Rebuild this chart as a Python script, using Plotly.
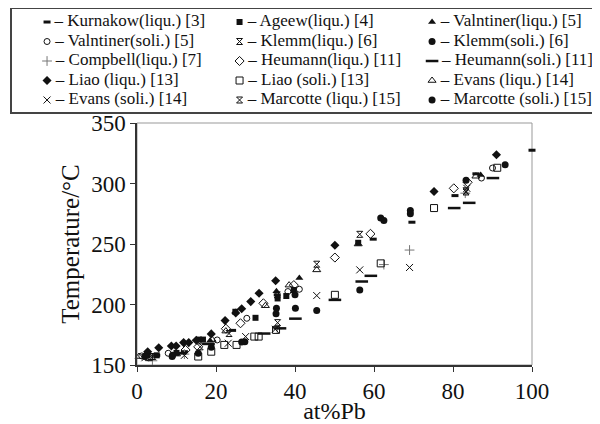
import plotly.graph_objects as go

# legend labels, in the order they appear (3 per row)
names = [
    'Kurnakow(liqu.) [3]', 'Ageew(liqu.) [4]', 'Valntiner(liqu.) [5]',
    'Valntiner(soli.) [5]', 'Klemm(liqu.) [6]', 'Klemm(soli.) [6]',
    'Compbell(liqu.) [7]', 'Heumann(liqu.) [11]', 'Heumann(soli.) [11]',
    'Liao (liqu.) [13]', 'Liao (soli.) [13]', 'Evans (liqu.) [14]',
    'Evans (soli.) [14]', 'Marcotte (liqu.) [15]', 'Marcotte (soli.) [15]',
]

# at%Pb / Temperature (degC)
kurnakow_x = [5, 12, 24.2, 35.5, 59.8, 69.6, 80.5, 85.8, 100]
kurnakow_y = [158, 161, 178.6, 208, 254, 268, 290, 308, 327.5]
ageew_x = [5, 10, 15.7, 16.7, 24.9, 30, 35.6, 37.8, 39.7, 56]
ageew_y = [158, 160, 171, 171, 194, 189, 205, 207, 212, 251]
valntiner_l_x = [2.5, 18.5, 35.3, 41.1, 87]
valntiner_l_y = [157, 170, 211, 222, 307]
valntiner_s_x = [1.2, 7.9, 20.3, 27.8, 38.2, 41.1, 87.2, 90]
valntiner_s_y = [157.5, 159.7, 170.7, 188.6, 210.7, 212.6, 304.5, 312.8]
klemm_l_x = [3.5, 16, 23.3, 35.6, 83.3]
klemm_l_y = [157, 165, 176, 185, 294]
klemm_s_x = [2.6, 8.9, 15.5, 18.8, 27.3, 35.2, 40.1, 61.7, 62.5, 69.2, 69.2, 83.3]
klemm_s_y = [158.8, 157, 159.7, 164.7, 169.3, 192.4, 197, 271.4, 269.4, 277.7, 275, 302.6]
compbell_x = [3.9, 12, 35.5, 62.5, 69, 83.1]
compbell_y = [153.5, 159, 180, 233, 245, 292]
heumann_l_x = [12.3, 15.5, 22.5, 26.2, 32, 39.7, 50.1, 59.1, 80.2, 83.7]
heumann_l_y = [162.4, 165, 180, 184.5, 201, 216, 238.8, 258.4, 296, 301]
heumann_s_x = [10.9, 18.1, 32.2, 36.2, 40.1, 50.1, 56.9, 59.2, 80.3, 84.1, 90.1]
heumann_s_y = [159.7, 167.4, 176, 180.3, 188.3, 203.8, 219, 223.7, 279.7, 284, 304.5]
liao_l_x = [2.7, 5.5, 8.7, 9.9, 11.8, 13.1, 15, 18.8, 22.3, 25, 26.5, 28.8,
            30.9, 35.1, 50.1, 75.2, 91]
liao_l_y = [161, 164.3, 165.7, 165.7, 168.5, 168.5, 170.5, 175.7, 186.7, 193,
            196.5, 202.4, 209.3, 219.6, 249, 293.4, 323.8]
liao_s_x = [3, 15.5, 18.8, 22.1, 25.2, 29.7, 30.8, 35.2, 50.1, 61.7, 75.2, 91.2]
liao_s_y = [156.5, 157, 161, 166.6, 166.6, 173.5, 173.5, 179, 208, 234, 279.7, 313]
evans_l_x = [0.5, 10, 19, 22.5, 32.5, 38.5, 45.5, 56, 85.8]
evans_l_y = [157, 159, 171, 178, 199, 216, 228.6, 250, 306]
evans_s_x = [2, 12, 23.1, 27.5, 35, 45.5, 56.4, 69, 83.5]
evans_s_y = [156, 158, 168, 173.5, 179.5, 207.4, 228.6, 230.6, 296]
marcotte_l_x = [4, 35.5, 45.5, 56.4, 83.3]
marcotte_l_y = [157, 208, 233.3, 258, 293]
marcotte_s_x = [2, 9, 26.5, 35.3, 40, 45.5, 56.4, 93.2]
marcotte_s_y = [157, 158, 169, 197, 208, 195, 212, 315.5]

xs = [kurnakow_x, ageew_x, valntiner_l_x, valntiner_s_x, klemm_l_x, klemm_s_x,
      compbell_x, heumann_l_x, heumann_s_x, liao_l_x, liao_s_x, evans_l_x,
      evans_s_x, marcotte_l_x, marcotte_s_x]
ys = [kurnakow_y, ageew_y, valntiner_l_y, valntiner_s_y, klemm_l_y, klemm_s_y,
      compbell_y, heumann_l_y, heumann_s_y, liao_l_y, liao_s_y, evans_l_y,
      evans_s_y, marcotte_l_y, marcotte_s_y]

K = '#111111'
markers = [
    dict(symbol='line-ew', size=5, line=dict(width=3, color=K)),
    dict(symbol='square', size=6, color=K),
    dict(symbol='triangle-up', size=7, color=K),
    dict(symbol='circle-open', size=6, color=K, line=dict(width=1)),
    dict(symbol='hourglass-open', size=6, color=K, line=dict(width=1)),
    dict(symbol='circle', size=7, color=K),
    dict(symbol='cross-thin-open', size=7, color='#777777', line=dict(width=1, color='#777777')),
    dict(symbol='diamond-open', size=7, color=K, line=dict(width=1)),
    dict(symbol='line-ew', size=9, line=dict(width=2.5, color=K)),
    dict(symbol='diamond', size=7, color=K),
    dict(symbol='square-open', size=7, color=K, line=dict(width=1)),
    dict(symbol='triangle-up-open', size=7, color=K, line=dict(width=1)),
    dict(symbol='x-thin-open', size=7, color=K, line=dict(width=1, color=K)),
    dict(symbol='hourglass-open', size=6, color=K, line=dict(width=1)),
    dict(symbol='circle', size=7, color=K),
]

SERIF = 'Liberation Serif, Times New Roman, serif'
W, H = 592, 416   # page body margin eats 8px of the 600x424 window

fig = go.Figure()

for i in range(len(names)):
    fig.add_trace(go.Scatter(x=xs[i], y=ys[i], mode='markers', name=names[i],
                             marker=markers[i], cliponaxis=False))

# legend box: one entry per series on a 3 x 5 grid of a helper axis
for i in range(len(names)):
    fig.add_trace(go.Scatter(x=[i % 3], y=[i // 3], mode='markers+text',
                             text=['\u2009– ' + names[i]], textposition='middle right',
                             textfont=dict(family=SERIF, size=17, color='#111'),
                             marker=markers[i], xaxis='x2', yaxis='y2',
                             cliponaxis=False, hoverinfo='skip'))

fig.add_shape(type='rect', xref='x domain', yref='y domain', x0=0, x1=1, y0=0, y1=1,
              line=dict(color='#999999', width=1), layer='below')

fig.update_layout(
    width=W, height=H,
    margin=dict(l=0, r=0, t=0, b=0),
    paper_bgcolor='white', plot_bgcolor='white',
    showlegend=False,
    font=dict(family=SERIF, color='#111'),
    xaxis=dict(domain=[129 / W, 524 / W], range=[0, 100], dtick=20,
               showgrid=False, zeroline=False, showline=True, linecolor='#333',
               linewidth=1.5, ticks='outside', ticklen=5, tickcolor='#333',
               tickfont=dict(size=23), automargin=False,
               title=dict(text='at%Pb', font=dict(size=24), standoff=0)),
    yaxis=dict(domain=[59 / H, 301 / H], range=[150, 350], dtick=50,
               showgrid=False, zeroline=False, showline=True, linecolor='#333',
               linewidth=1.5, ticks='outside', ticklen=5, tickcolor='#333',
               tickfont=dict(size=23), automargin=False,
               title=dict(text='Temperature/°C', font=dict(size=25), standoff=4)),
    xaxis2=dict(domain=[4 / W, 590 / W], range=[-0.182, 2.862], anchor='y2',
                showgrid=False, zeroline=False, showticklabels=False,
                showline=True, mirror=True, linecolor='#444', linewidth=1.5),
    yaxis2=dict(domain=[312 / H, 415 / H], range=[4.615, -0.667], anchor='x2',
                showgrid=False, zeroline=False, showticklabels=False,
                showline=True, mirror=True, linecolor='#444', linewidth=1.5),
)

fig.write_html('out.html')
